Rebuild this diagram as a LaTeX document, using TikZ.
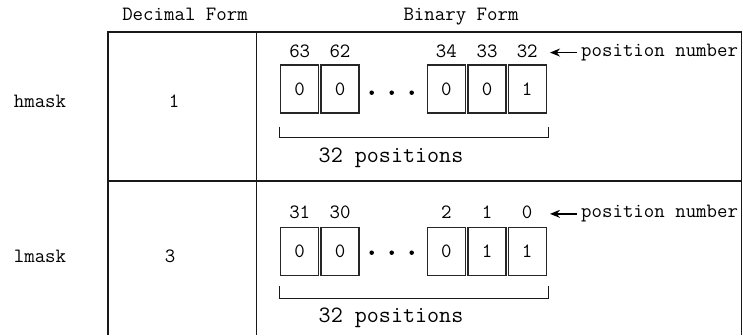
\documentclass[tikz,border=0pt]{standalone}
\usetikzlibrary{arrows.meta}
\begin{document}
\begin{tikzpicture}[x=1pt,y=-1pt,
  txt/.style={inner sep=0pt, font=\fontsize{20.3}{23}\ttfamily},
  bigtxt/.style={inner sep=0pt, font=\fontsize{23.4}{27}\ttfamily},
  bitbox/.style={draw=black!85, line width=1.3pt, minimum width=38pt, minimum height=48pt, inner sep=0pt, font=\fontsize{20.3}{23}\ttfamily},
  tline/.style={draw=black!90, line width=1.6pt},
  brk/.style={draw=black!90, line width=1.4pt},
  dotm/.style={circle, fill=black, inner sep=0pt, minimum size=4.5pt},
  arr/.style={draw=black, line width=1.5pt, -{Stealth[length=10pt,width=8pt]}},
]
\useasboundingbox (0,0) rectangle (743,335);
% table frame
\coordinate (tl) at (108,32);
\coordinate (tr) at (741.5,32);
\coordinate (bl) at (108,335);
\coordinate (br) at (741.5,335);
\coordinate (dt) at (256.5,32);
\coordinate (db) at (256.5,335);
\coordinate (ml) at (108,181);
\coordinate (mr) at (741.5,181);
\draw[tline] (bl) -- (tl) -- (tr) -- (br);
\draw[tline] (dt) -- (db);
\draw[tline] (ml) -- (mr);
% headers
\node[txt, anchor=base] (hdec) at (185,20.5) {Decimal Form};
\node[txt, anchor=base] (hbin) at (461,20.5) {Binary Form};
% row labels
\node[txt, anchor=base] (lh) at (40,107) {hmask};
\node[txt, anchor=base] (ll) at (40,262) {lmask};
\node[txt, anchor=base] (vh) at (174,107) {1};
\node[txt, anchor=base] (vl) at (170,262) {3};
% row 1 boxes
\node[bitbox] (a1) at (299.7,89) {0};
\node[bitbox] (a2) at (340,89) {0};
\node[bitbox] (a3) at (446.3,89) {0};
\node[bitbox] (a4) at (487,89) {0};
\node[bitbox] (a5) at (527.2,89) {1};
\node[txt, anchor=base] (na1) at (a1 |- 0,57) {63};
\node[txt, anchor=base] (na2) at (a2 |- 0,57) {62};
\node[txt, anchor=base] (na3) at (a3 |- 0,57) {34};
\node[txt, anchor=base] (na4) at (a4 |- 0,57) {33};
\node[txt, anchor=base] (na5) at (a5 |- 0,57) {32};
\node[dotm] (da1) at (371.7,92.7) {};
\node[dotm] (da2) at (391.7,92.7) {};
\node[dotm] (da3) at (411.7,92.7) {};
\node[txt, anchor=base west] (pa) at (581,56.5) {position number};
\coordinate (ta) at ([xshift=-31pt]pa.west);
\draw[arr] ([xshift=-4pt]pa.west) -- (ta);
\coordinate (ka1) at (279.3,126.5);
\coordinate (ka2) at (279.3,137.3);
\coordinate (ka3) at (548.3,137.3);
\coordinate (ka4) at (548.3,126.5);
\draw[brk] (ka1) -- (ka2) -- (ka3) -- (ka4);
\node[bigtxt, anchor=base] (pos1) at (391,162) {32 positions};
% row 2 boxes
\node[bitbox] (b1) at (299.7,251.5) {0};
\node[bitbox] (b2) at (340,251.5) {0};
\node[bitbox] (b3) at (446.3,251.5) {0};
\node[bitbox] (b4) at (487,251.5) {1};
\node[bitbox] (b5) at (527.2,251.5) {1};
\node[txt, anchor=base] (nb1) at (b1 |- 0,218.3) {31};
\node[txt, anchor=base] (nb2) at (b2 |- 0,218.3) {30};
\node[txt, anchor=base] (nb3) at (b3 |- 0,218.3) {2};
\node[txt, anchor=base] (nb4) at (b4 |- 0,218.3) {1};
\node[txt, anchor=base] (nb5) at (b5 |- 0,218.3) {0};
\node[dotm] (db1) at (371.7,252.7) {};
\node[dotm] (db2) at (391.7,252.7) {};
\node[dotm] (db3) at (411.7,252.7) {};
\node[txt, anchor=base west] (pb) at (581,217.8) {position number};
\coordinate (tb) at ([xshift=-31pt]pb.west);
\draw[arr] ([xshift=-4pt]pb.west) -- (tb);
\coordinate (kb1) at (279.3,286);
\coordinate (kb2) at (279.3,298.3);
\coordinate (kb3) at (548.3,298.3);
\coordinate (kb4) at (548.3,286);
\draw[brk] (kb1) -- (kb2) -- (kb3) -- (kb4);
\node[bigtxt, anchor=base] (pos2) at (391,322.7) {32 positions};
\end{tikzpicture}
\end{document}
